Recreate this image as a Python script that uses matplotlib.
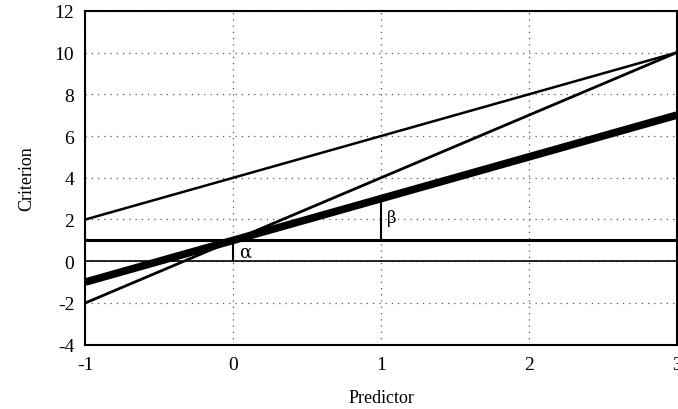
import matplotlib.pyplot as plt

plt.rcParams['font.family'] = ['Liberation Serif', 'DejaVu Serif']
plt.rcParams['axes.unicode_minus'] = False

# line endpoints (predictor -1 and 3)
x_ends = [-1, 3]
line_a = [2, 10]     # thin, intercept 4 slope 2
line_b = [-2, 10]    # intercept 1 slope 3
line_c = [-1, 7]     # thick, intercept 1 slope 2
base_level = 1
zero_level = 0

# alpha / beta markers
alpha_x, alpha_y = 0, [0, 1]
beta_x, beta_y = 1, [1, 3]

fig = plt.figure(figsize=(6.78, 4.10), dpi=100)
ax = fig.add_axes([0.126, 0.157, 0.872, 0.814])

ax.plot(x_ends, [zero_level, zero_level], color='black', lw=1.2)
ax.plot(x_ends, [base_level, base_level], color='black', lw=2.2)
ax.plot(x_ends, line_a, color='black', lw=1.8)
ax.plot(x_ends, line_b, color='black', lw=2.0)
ax.plot(x_ends, line_c, color='black', lw=5.5, solid_capstyle='butt')

ax.plot([alpha_x, alpha_x], alpha_y, color='black', lw=1.5)
ax.plot([beta_x, beta_x], beta_y, color='black', lw=1.5)
ax.text(alpha_x + 0.04, 0.48, 'α', fontsize=13, va='center', family=['DejaVu Serif'])
ax.text(beta_x + 0.04, 2.1, 'β', fontsize=12, va='center', family=['DejaVu Serif'])

ax.set_xlim(-1, 3)
ax.set_ylim(-4, 12)
ax.set_xticks([-1, 0, 1, 2, 3])
ax.set_yticks(range(-4, 13, 2))
ax.tick_params(length=0, labelsize=14, pad=8)
ax.grid(True, linestyle=(0, (1, 4)), color='#555555', lw=0.9)

for s in ax.spines.values():
    s.set_linewidth(1.5)

ax.set_xlabel('Predictor', fontsize=13, labelpad=12)
ax.set_ylabel('Criterion', fontsize=13, labelpad=14)

plt.savefig('out.png', dpi=100)
